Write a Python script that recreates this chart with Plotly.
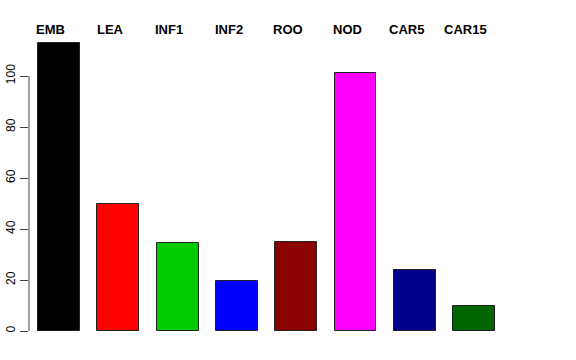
import plotly.graph_objects as go

categories = ["EMB", "LEA", "INF1", "INF2", "ROO", "NOD", "CAR5", "CAR15"]
values = [113, 50, 34.4, 19.5, 35.0, 101, 24.0, 9.7]
colors = ["#000000", "#FF0000", "#00CD00", "#0000FF", "#8B0000", "#FF00FF", "#00008B", "#006400"]
y_ticks = [0, 20, 40, 60, 80, 100]

positions = list(range(len(categories)))

fig = go.Figure()
fig.add_trace(go.Bar(
    x=positions, y=values, width=0.708,
    marker=dict(color=colors, line=dict(color="#222222", width=1)),
    hoverinfo="skip", showlegend=False,
))

# y axis line from first to last tick (R-style)
fig.add_shape(type="line", xref="paper", yref="y", x0=0, x1=0,
              y0=y_ticks[0], y1=y_ticks[-1], line=dict(color="#444444", width=1))

for i, c in enumerate(categories):
    fig.add_annotation(x=i - 0.14, xref="x", y=1, yref="paper", yshift=-9,
                       text=f"<b>{c}</b>", showarrow=False, yanchor="middle",
                       font=dict(family="Liberation Sans, Arial", size=13, color="black"))

L, R, T, B = 29, 16, 20, 18
W, H = 576, 360
px_per_x = 59.3
x0 = -(59 - L) / px_per_x
x1 = x0 + (W - L - R) / px_per_x
px_per_y = 2.55
y0 = -(H - B - 331) / px_per_y
y1 = y0 + (H - T - B) / px_per_y

fig.update_layout(
    width=W, height=H,
    margin=dict(l=L, r=R, t=T, b=B, autoexpand=False),
    plot_bgcolor="white", paper_bgcolor="white",
    bargap=0,
    xaxis=dict(range=[x0, x1], showticklabels=False, showgrid=False, automargin=False,
               zeroline=False, showline=False, ticks=""),
    yaxis=dict(range=[y0, y1], tickvals=y_ticks, ticks="outside", ticklen=8,
               tickcolor="#444444", tickangle=-90, showgrid=False, zeroline=False,
               showline=False, automargin=False,
               tickfont=dict(family="Liberation Sans, Arial", size=12, color="black")),
)

fig.write_html("out.html", config={"displayModeBar": False},
               post_script="document.body.style.margin='0';")
